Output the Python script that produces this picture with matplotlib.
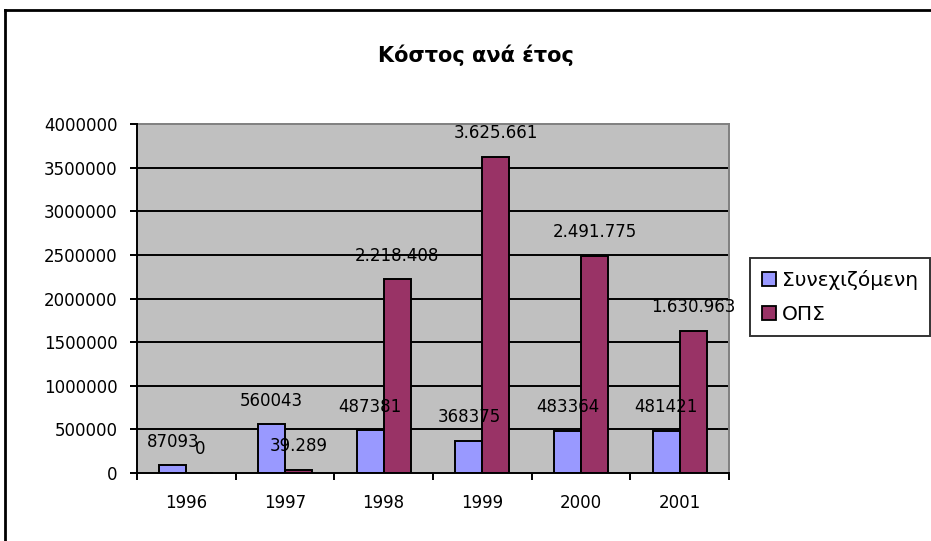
import matplotlib
matplotlib.use("Agg")
import matplotlib.pyplot as plt
from matplotlib.lines import Line2D
import numpy as np

years = ["1996", "1997", "1998", "1999", "2000", "2001"]
continuing = [87093, 560043, 487381, 368375, 483364, 481421]
ops = [0, 39289, 2218408, 3625661, 2491775, 1630963]
series_names = ["Συνεχιζόμενη", "ΟΠΣ"]
title_text = "Κόστος ανά έτος"
y_ticks = [0, 500000, 1000000, 1500000, 2000000, 2500000, 3000000, 3500000, 4000000]

BLUE = "#9999FF"
PURPLE = "#993366"
PLOT_BG = "#C0C0C0"

plt.rcParams["font.family"] = ["DejaVu Sans"]

fig = plt.figure(figsize=(9.31, 5.41), dpi=100)
fig.patch.set_facecolor("white")
ax = fig.add_axes([137 / 931, 1 - 473 / 541, (729 - 137) / 931, (473 - 124) / 541])
ax.set_facecolor(PLOT_BG)

x = np.arange(len(years))
w = 0.274
ax.bar(x - w / 2, continuing, w, color=BLUE, edgecolor="black", linewidth=1.4, zorder=3)
ax.bar(x + w / 2, ops, w, color=PURPLE, edgecolor="black", linewidth=1.4, zorder=3)

ax.set_xlim(-0.5, len(years) - 0.5)
ax.set_ylim(0, 4000000)

# horizontal gridlines
ax.set_yticks(y_ticks)
ax.set_yticklabels([str(v) for v in y_ticks], fontsize=12)
for v in y_ticks[1:-1]:
    ax.axhline(v, color="black", linewidth=1.4, zorder=1)

# category labels at centres, tick marks at boundaries
ax.set_xticks(x)
ax.set_xticklabels(years, fontsize=12)
ax.set_xticks(np.arange(-0.5, len(years)), minor=True)
ax.tick_params(axis="x", which="major", length=0, pad=15)
ax.tick_params(axis="x", which="minor", length=5, width=1.4, direction="out", color="black")
ax.tick_params(axis="y", which="major", length=5, width=1.4, direction="out", pad=9, color="black")

for side in ["top", "right"]:
    ax.spines[side].set_color("#808080")
    ax.spines[side].set_linewidth(1.4)
for side in ["left", "bottom"]:
    ax.spines[side].set_color("black")
    ax.spines[side].set_linewidth(1.4)
    ax.spines[side].set_zorder(4)


def fmt_plain(v):
    return str(v)


def fmt_dots(v):
    return f"{v:,}".replace(",", ".")


for xi, v in zip(x, continuing):
    ax.annotate(fmt_plain(v), (xi - w / 2, v), xytext=(0, 13.4), textcoords="offset points",
                ha="center", va="baseline", fontsize=12, zorder=5, annotation_clip=False)
for xi, v in zip(x, ops):
    ax.annotate(fmt_dots(v), (xi + w / 2, v), xytext=(0, 13.4), textcoords="offset points",
                ha="center", va="baseline", fontsize=12, zorder=5, annotation_clip=False)

# title
fig.text(476 / 931, 1 - 55 / 541, title_text, ha="center", va="center", fontsize=15,
         fontweight="bold")

# legend
handles = [
    Line2D([], [], marker="s", linestyle="none", markersize=10, markerfacecolor=BLUE,
           markeredgecolor="black", markeredgewidth=1.3),
    Line2D([], [], marker="s", linestyle="none", markersize=10, markerfacecolor=PURPLE,
           markeredgecolor="black", markeredgewidth=1.3),
]
leg = fig.legend(handles, series_names, loc="center left", bbox_to_anchor=(750 / 931, 1 - 297 / 541),
                 fontsize=14.5, frameon=True, fancybox=False, edgecolor="black",
                 handlelength=0.7, handletextpad=0.3, borderpad=0.6, labelspacing=0.75,
                 borderaxespad=0)
leg.get_frame().set_linewidth(1.4)

# outer chart border (left and top edges)
fig.add_artist(Line2D([5 / 931, 5 / 931], [0, 1 - 10 / 541], transform=fig.transFigure,
                      color="black", linewidth=2))
fig.add_artist(Line2D([5 / 931, 1], [1 - 10 / 541, 1 - 10 / 541], transform=fig.transFigure,
                      color="black", linewidth=2))

fig.savefig("out.png", dpi=100, facecolor="white")
